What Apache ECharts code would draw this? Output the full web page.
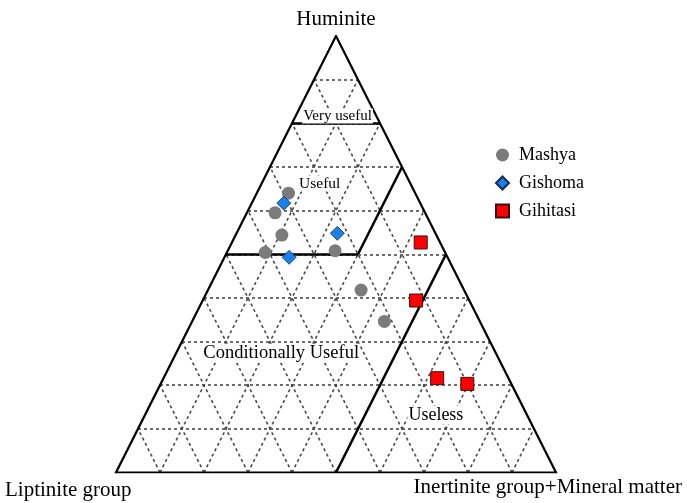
<!DOCTYPE html>
<html><head><meta charset="utf-8">
<script src="https://cdn.jsdelivr.net/npm/echarts@6/dist/echarts.min.js"></script>
<style>html,body{margin:0;padding:0;background:#fff}#c{width:687px;height:503px}</style>
</head><body><div id="c"></div>
<script>
// Ternary composition data (percent): Huminite (top), Liptinite group (bottom-left), Inertinite group+Mineral matter (bottom-right)
const seriesNames = ['Mashya', 'Gishoma', 'Gihitasi'];

const mashyaHuminite   = [64.0, 59.5, 54.4, 50.4, 50.8, 41.8, 34.6];
const mashyaLiptinite  = [28.8, 34.1, 35.1, 40.9, 24.8, 23.4, 21.7];
const mashyaInertinite = [7.2, 6.4, 10.5, 8.7, 24.4, 34.8, 43.7];

const gishomaHuminite   = [61.7, 54.8, 49.3];
const gishomaLiptinite  = [31.0, 22.3, 36.0];
const gishomaInertinite = [7.3, 22.9, 14.7];

const gihitasiHuminite   = [52.7, 39.4, 21.6, 20.3];
const gihitasiLiptinite  = [4.4, 12.1, 16.2, 10.0];
const gihitasiInertinite = [42.9, 48.5, 62.2, 69.7];

// grid ticks (percent) and class boundaries
const gridTicks = [10, 20, 30, 40, 50, 60, 70, 80, 90];
const veryUsefulMinHuminite = 80;
const usefulMinHuminite = 50;
const usefulMaxInertinite = 30;
const uselessMinInertinite = 50;

const axisTitles = ['Huminite', 'Liptinite group', 'Inertinite group+Mineral matter'];
const regionNames = ['Very useful', 'Useful', 'Conditionally Useful', 'Useless'];

// ternary (H, L, I) -> cartesian in unit triangle (x from 0..1, y = H)
function tern(h, l, i) {
  const s = h + l + i;
  h /= s; i /= s;
  return [i + h / 2, h];
}
// point with given Huminite and Inertinite (percent)
function HI(h, i) { return tern(h, 100 - h - i, i); }

function pts(H, L, I) { return H.map((h, k) => tern(h, L[k], I[k])); }

// dashed grid lines
const gridLines = [];
gridTicks.forEach(t => {
  gridLines.push({ coords: [HI(t, 0), HI(t, 100 - t)] });          // constant Huminite
  gridLines.push({ coords: [HI(0, t), HI(100 - t, t)] });          // constant Inertinite
  gridLines.push({ coords: [HI(0, 100 - t), HI(100 - t, 0)] });    // constant Liptinite
});

const outline = [{ coords: [HI(0, 0), HI(100, 0), HI(0, 100), HI(0, 0), HI(100, 0)] }];

const boundaries = [
  { coords: [HI(veryUsefulMinHuminite, 0), HI(veryUsefulMinHuminite, 100 - veryUsefulMinHuminite)] },
  { coords: [HI(usefulMinHuminite, 0), HI(usefulMinHuminite, usefulMaxInertinite)] },
  { coords: [HI(usefulMinHuminite, usefulMaxInertinite), HI(100 - usefulMaxInertinite, usefulMaxInertinite)] },
  { coords: [HI(0, uselessMinInertinite), HI(100 - uselessMinInertinite, uselessMinInertinite)] }
];

// label anchor points for region names (Huminite, Inertinite)
const regionLabelAt = [[81.7, 9.5], [66.2, 13.2], [27.3, 23.9], [13.2, 66.1]];

const serif = '"Liberation Serif", "Times New Roman", serif';
const regionFont = [15, 15.5, 18.5, 18];

const chart = echarts.init(document.getElementById('c'), null, { renderer: 'canvas' });
chart.setOption({
  animation: false,
  backgroundColor: '#fff',
  grid: { left: 116, right: 131, top: 36, bottom: 30.5 },
  xAxis: { type: 'value', min: 0, max: 1, show: false },
  yAxis: { type: 'value', min: 0, max: 1, show: false },
  legend: {
    orient: 'vertical',
    left: 490, top: 141,
    itemWidth: 13, itemHeight: 13, itemGap: 10,
    textStyle: { fontFamily: serif, fontSize: 18, color: '#000', lineHeight: 18, padding: [0, 0, 0, 5] },
    data: [
      { name: seriesNames[0], icon: 'circle' },
      { name: seriesNames[1], icon: 'diamond' },
      { name: seriesNames[2], icon: 'rect' }
    ]
  },
  graphic: [
    { type: 'text', style: { text: axisTitles[0], x: 336, y: 19, textAlign: 'center', textVerticalAlign: 'middle', font: '21px ' + serif, fill: '#000' } },
    { type: 'text', style: { text: axisTitles[1], x: 5, y: 490, textAlign: 'left', textVerticalAlign: 'middle', font: '21px ' + serif, fill: '#000' } },
    { type: 'text', style: { text: axisTitles[2], x: 682, y: 487, textAlign: 'right', textVerticalAlign: 'middle', font: '21px ' + serif, fill: '#000' } }
  ],
  series: [
    { type: 'lines', coordinateSystem: 'cartesian2d', silent: true, z: 1, data: gridLines,
      lineStyle: { color: '#4a4a4a', width: 1.6, type: [3, 3], opacity: 1 } },
    { type: 'lines', coordinateSystem: 'cartesian2d', polyline: true, silent: true, z: 2, data: outline,
      lineStyle: { color: '#000', width: 2.2, opacity: 1, join: 'miter' } },
    { type: 'lines', coordinateSystem: 'cartesian2d', silent: true, z: 2, data: boundaries,
      lineStyle: { color: '#000', width: 2.5, opacity: 1 } },
    { type: 'scatter', silent: true, z: 3, symbolSize: 0, itemStyle: { opacity: 1 },
      data: regionLabelAt.map((p, k) => ({ value: HI(p[0], p[1]), name: regionNames[k],
        label: { show: true, position: 'inside', formatter: regionNames[k], fontFamily: serif, fontSize: regionFont[k],
                 color: '#000', opacity: 1, backgroundColor: '#fff', padding: [0, 1] } })) },
    { name: seriesNames[0], type: 'scatter', z: 5, symbol: 'circle', symbolSize: 13,
      itemStyle: { color: '#7b7b7b', opacity: 1 },
      data: pts(mashyaHuminite, mashyaLiptinite, mashyaInertinite) },
    { name: seriesNames[1], type: 'scatter', z: 5, symbol: 'diamond', symbolSize: 14,
      itemStyle: { color: '#1a80ee', borderColor: '#1b2a4a', borderWidth: 0.8, opacity: 1 },
      data: pts(gishomaHuminite, gishomaLiptinite, gishomaInertinite) },
    { name: seriesNames[2], type: 'scatter', z: 5, symbol: 'rect', symbolSize: 13,
      itemStyle: { color: '#ff0000', borderColor: '#3a1010', borderWidth: 1, opacity: 1 },
      data: pts(gihitasiHuminite, gihitasiLiptinite, gihitasiInertinite) }
  ]
});
</script></body></html>
